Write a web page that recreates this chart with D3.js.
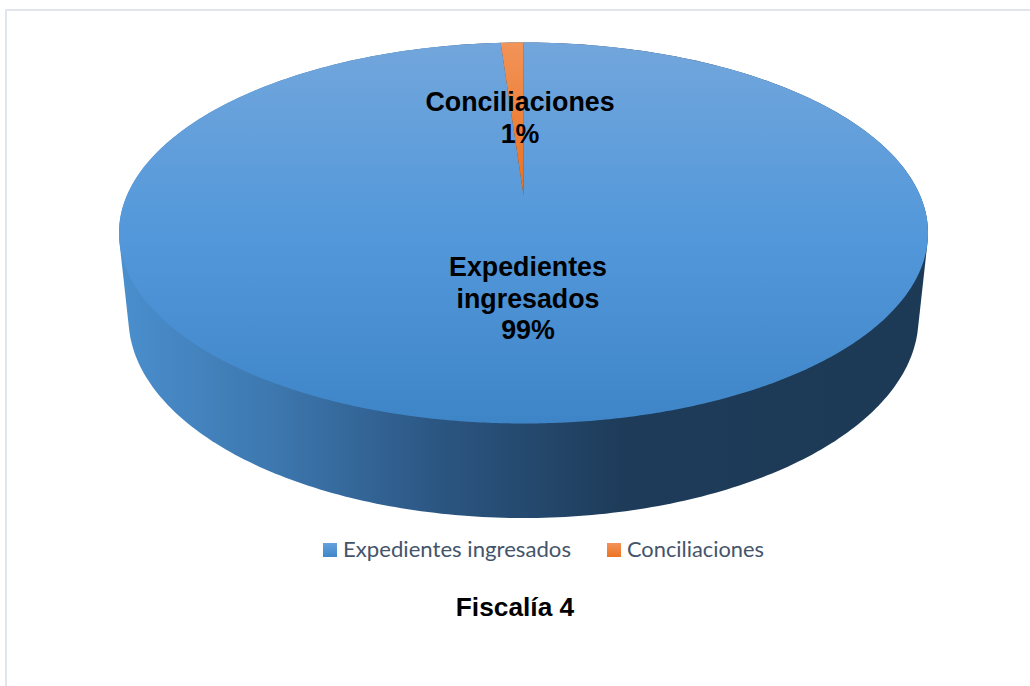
<!DOCTYPE html>
<html>
<head>
<meta charset="utf-8">
<script src="https://cdn.jsdelivr.net/npm/d3@7"></script>
<style>
  html, body { margin: 0; padding: 0; background: #fff; }
  svg { display: block; }
</style>
</head>
<body>
<svg id="chart" width="1030" height="686"></svg>
<script>
const categories = ['Expedientes ingresados', 'Conciliaciones'];
const shares = [0.991, 0.009];
const sliceLabels = [['Expedientes', 'ingresados'], ['Conciliaciones']];
const chartTitle = 'Fiscalía 4';

const width = 1030, height = 686;
const svg = d3.select('#chart');
const defs = svg.append('defs');

function addGradient(id, x2, y2, stops) {
  const g = defs.append('linearGradient')
    .attr('id', id)
    .attr('x1', 0).attr('y1', 0).attr('x2', x2).attr('y2', y2);
  stops.forEach(s => g.append('stop').attr('offset', s[0]).attr('stop-color', s[1]));
}
addGradient('topBlue', 0, 1, [[0, '#72a6dc'], [0.5, '#5398da'], [1, '#3e85c7']]);
addGradient('topOrange', 0, 1, [[0, '#f29358'], [1, '#ea7120']]);
addGradient('legBlue', 0, 1, [[0, '#65a1dc'], [1, '#3f87c9']]);
addGradient('legOrange', 0, 1, [[0, '#f2935a'], [1, '#ec7322']]);
addGradient('side', 1, 0, [[0, '#4a8fce'], [0.2, '#3c76ad'], [0.4, '#2b5581'], [0.62, '#1e3c5a'], [1, '#1c3a55']]);

// frame
svg.append('path')
  .attr('d', 'M6,686V10H1030')
  .attr('fill', 'none')
  .attr('stroke', '#e1e5ec')
  .attr('stroke-width', 2);

// top face ellipse; pie apex sits above its centre because of the perspective
const top_ = {cx: 523.5, cy: 233, rx: 404.5, ry: 190.5, apexY: 195};
const bottom_ = {cx: 523.5, cy: 318, rx: 395, ry: 200};

const rim = (e, a) => [e.cx + e.rx * Math.sin(a), e.cy - e.ry * Math.cos(a)];
const turn = d3.range(0, 360, 1).map(d => d * Math.PI / 180);

const line = d3.line();

// side wall: hull of both ellipses
const hull = d3.polygonHull(turn.map(a => rim(top_, a)).concat(turn.map(a => rim(bottom_, a))));
svg.append('path')
  .attr('d', line(hull) + 'Z')
  .attr('fill', 'url(#side)');

const pie = d3.pie().sort(null).value(d => d);
const slices = pie(shares);

function slicePath(d) {
  const n = Math.max(2, Math.ceil((d.endAngle - d.startAngle) / 0.01));
  const pts = d3.range(n + 1).map(i => rim(top_, d.startAngle + (d.endAngle - d.startAngle) * i / n));
  return line([[top_.cx, top_.apexY]].concat(pts)) + 'Z';
}

svg.selectAll('path.slice')
  .data(slices)
  .join('path')
  .attr('class', 'slice')
  .attr('d', slicePath)
  .attr('fill', (d, i) => i === 0 ? 'url(#topBlue)' : 'url(#topOrange)');

// slice labels
const pct = d3.format('.0%');
const labelPos = [{x: 528, y: 276}, {x: 520, y: 111}];
slices.forEach((d, i) => {
  const rows = sliceLabels[i].concat(pct(d.data));
  const t = svg.append('text')
    .attr('text-anchor', 'middle')
    .attr('font-family', '"Liberation Sans", Arial, sans-serif')
    .attr('font-weight', 'bold')
    .attr('font-size', 26.8)
    .attr('fill', '#000');
  rows.forEach((r, k) => {
    t.append('tspan')
      .attr('x', labelPos[i].x)
      .attr('y', labelPos[i].y + k * 31.5)
      .text(r);
  });
});

// legend
const legend = [
  {x: 323, tx: 343, w: 228},
  {x: 607, tx: 627, w: 137}
];
const legendG = svg.selectAll('g.leg')
  .data(categories)
  .join('g')
  .attr('class', 'leg');
legendG.append('rect')
  .attr('x', (d, i) => legend[i].x)
  .attr('y', 543)
  .attr('width', 14)
  .attr('height', 14)
  .attr('fill', (d, i) => i === 0 ? 'url(#legBlue)' : 'url(#legOrange)');
legendG.append('text')
  .attr('x', (d, i) => legend[i].tx)
  .attr('y', 557)
  .attr('textLength', (d, i) => legend[i].w)
  .attr('lengthAdjust', 'spacingAndGlyphs')
  .attr('font-family', 'Lato, "Open Sans", sans-serif')
  .attr('font-size', 22)
  .attr('fill', '#44546a')
  .text(d => d);

// title under the chart
svg.append('text')
  .attr('x', 515)
  .attr('y', 616)
  .attr('text-anchor', 'middle')
  .attr('font-family', '"Liberation Sans", Arial, sans-serif')
  .attr('font-weight', 'bold')
  .attr('font-size', 26.3)
  .attr('fill', '#000')
  .text(chartTitle);
</script>
</body>
</html>
